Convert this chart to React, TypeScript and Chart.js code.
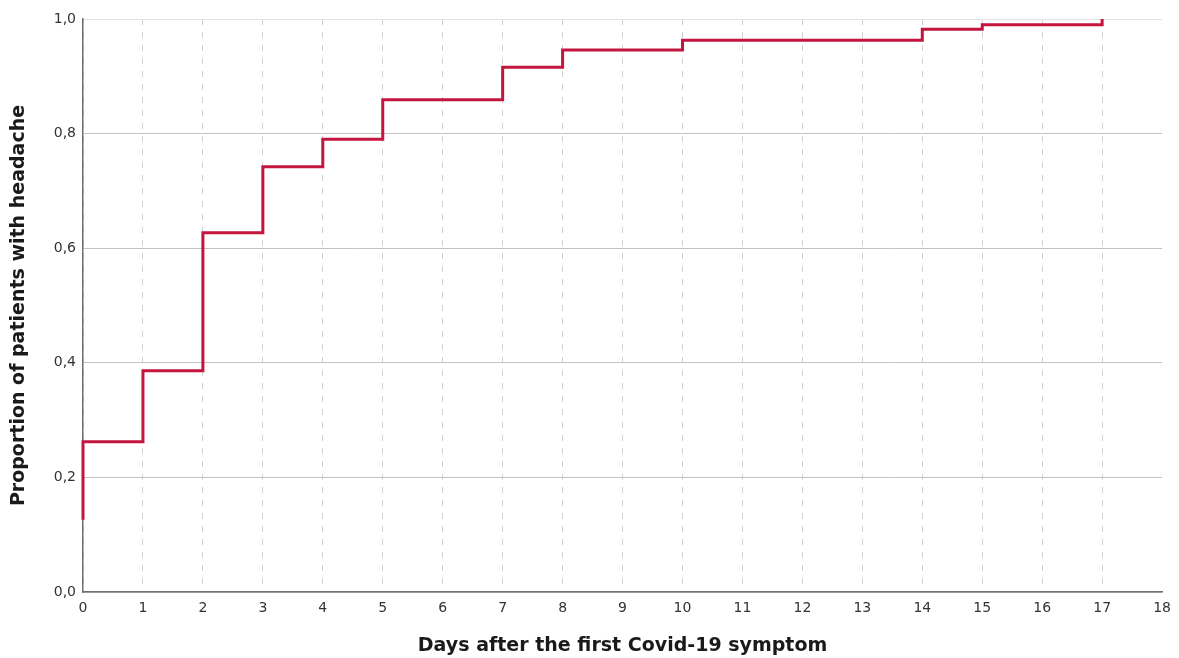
import React, { useEffect, useRef } from "react";
import { Chart, registerables } from "chart.js";

Chart.register(...registerables);

const days: number[] = [0, 0, 1, 2, 3, 4, 5, 7, 8, 10, 14, 15, 17];
const proportion: number[] = [0.126, 0.262, 0.386, 0.627, 0.742, 0.79, 0.859, 0.916, 0.946, 0.963, 0.982, 0.99, 1.0];
const xTitle = "Days after the first Covid-19 symptom";
const yTitle = "Proportion of patients with headache";

export default function App() {
  const ref = useRef<HTMLCanvasElement | null>(null);

  useEffect(() => {
    if (!ref.current) return;
    const data = days.map((d, i) => ({ x: d, y: proportion[i] }));
    const chart = new Chart(ref.current, {
      type: "line",
      data: {
        datasets: [
          {
            data,
            stepped: "before",
            borderColor: "#c4153f",
            borderWidth: 3,
            pointRadius: 0,
            fill: false,
            clip: false as any,
          },
        ],
      },
      options: {
        animation: false,
        responsive: false,
        layout: { padding: { top: 19, right: 16, left: 0, bottom: 0 } },
        plugins: { legend: { display: false }, tooltip: { enabled: false } },
        scales: {
          x: {
            type: "linear",
            min: 0,
            max: 18,
            ticks: {
              stepSize: 1,
              padding: 8,
              color: "#333",
              font: { family: "DejaVu Sans", size: 14 },
            },
            grid: {
              color: (c: any) => (c.tick && c.tick.value === 18 ? "rgba(0,0,0,0)" : "#d2d2d2"),
              lineWidth: 1,
              drawTicks: false,
            },
            border: { display: true, color: "#6e6e6e", width: 1.5, dash: [6, 7] },
            title: {
              display: true,
              text: xTitle,
              color: "#1a1a1a",
              font: { family: "DejaVu Sans", size: 19, weight: "bold" },
              padding: { top: 0, bottom: 1 },
            },
            afterFit: (s: any) => {
              s.height = 66;
            },
          },
          y: {
            min: 0,
            max: 1,
            ticks: {
              stepSize: 0.2,
              padding: 7,
              color: "#333",
              font: { family: "DejaVu Sans", size: 14 },
              callback: (v: any) => Number(v).toFixed(1).replace(".", ","),
            },
            grid: {
              color: (c: any) => (c.tick && c.tick.value === 1 ? "#e2e2e2" : "#c2c2c2"),
              lineWidth: 1,
              drawTicks: false,
            },
            border: { display: true, color: "#6e6e6e", width: 1.5 },
            title: {
              display: true,
              text: yTitle,
              color: "#1a1a1a",
              font: { family: "DejaVu Sans", size: 19, weight: "bold" },
              padding: { top: 8, bottom: 0 },
            },
            afterFit: (s: any) => {
              s.width = 83;
            },
          },
        },
      },
    });
    return () => chart.destroy();
  }, []);

  return (
    <div style={{ position: "fixed", left: 0, top: 0, width: 1179, height: 658, background: "#fff" }}>
      <canvas ref={ref} width={1179} height={658} style={{ display: "block" }} />
    </div>
  );
}
